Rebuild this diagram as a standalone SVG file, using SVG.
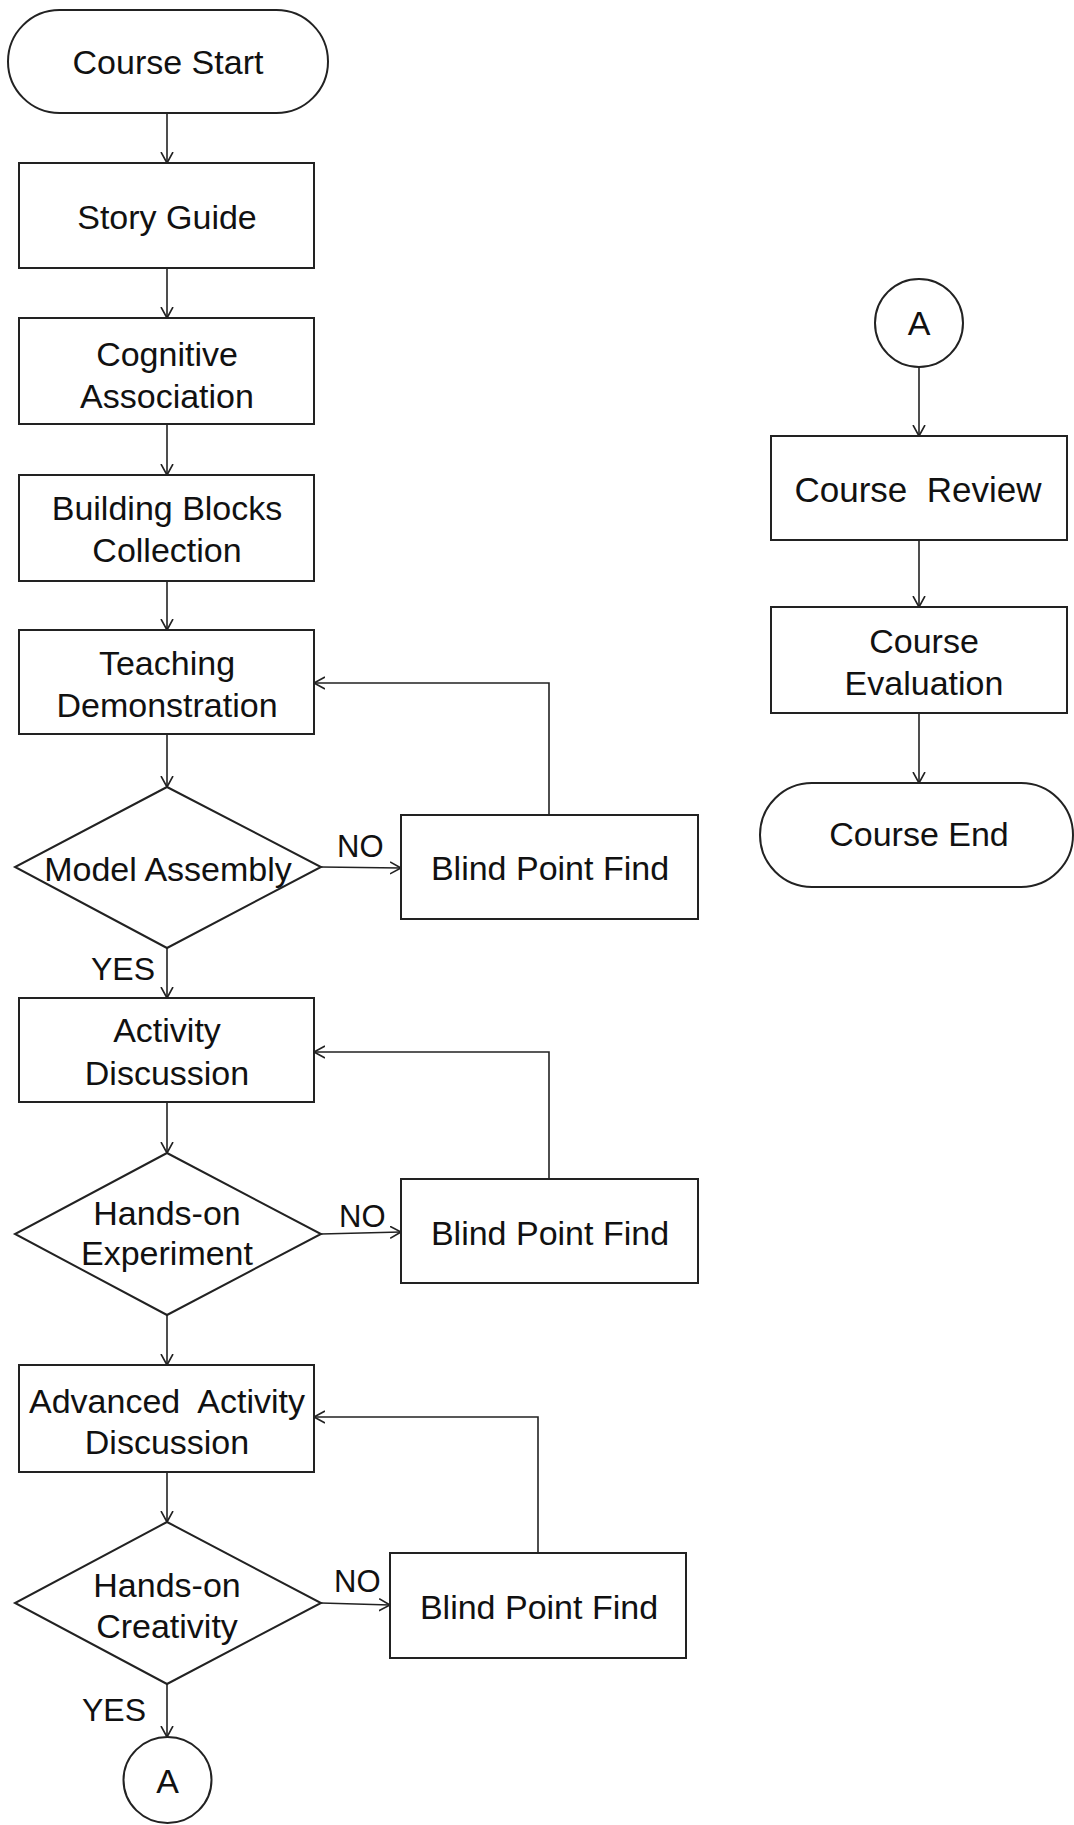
<svg xmlns="http://www.w3.org/2000/svg" width="1074" height="1825" viewBox="0 0 1074 1825">
<style>
.n{fill:#fff;stroke:#222;stroke-width:2}
.t{font-family:"Liberation Sans",Arial,sans-serif;font-size:34px;fill:#111;text-anchor:middle;white-space:pre}
.l{font-family:"Liberation Sans",Arial,sans-serif;font-size:31px;fill:#111;white-space:pre}
.c{fill:none;stroke:#222;stroke-width:1.6}
</style>
<defs>
<marker id="ah" markerUnits="userSpaceOnUse" markerWidth="14" markerHeight="14" refX="11" refY="6.5" orient="auto">
<path d="M0,0.5 L11,6.5 L0,12.5" fill="none" stroke="#222" stroke-width="1.6"/>
</marker>
</defs>
<rect width="1074" height="1825" fill="#fff"/>
<g id="connectors" class="c" marker-end="url(#ah)">
<path d="M167,113 V163"/>
<path d="M167,268 V318"/>
<path d="M167,424 V475"/>
<path d="M167,581 V630"/>
<path d="M167,734 V787"/>
<path d="M167,948 V998"/>
<path d="M321,867 L401,868"/>
<path d="M549,815 V683 H314"/>
<path d="M167,1102 V1153"/>
<path d="M321,1234 L401,1232"/>
<path d="M549,1179 V1052 H314"/>
<path d="M167,1315 V1365"/>
<path d="M167,1472 V1522"/>
<path d="M321,1603 L390,1605"/>
<path d="M538,1553 V1417 H314"/>
<path d="M167,1684 V1737"/>
<path d="M919,367 V436"/>
<path d="M919,540 V607"/>
<path d="M919,713 V783"/>
</g>
<g id="course-start"><rect class="n" x="8" y="10" width="320" height="103" rx="51.5"/><text class="t" x="168" y="74">Course Start</text></g>
<g id="story-guide"><rect class="n" x="19" y="163" width="295" height="105"/><text class="t" x="167" y="229">Story Guide</text></g>
<g id="cognitive-association"><rect class="n" x="19" y="318" width="295" height="106"/><text class="t" x="167" y="366">Cognitive</text><text class="t" x="167" y="408">Association</text></g>
<g id="building-blocks"><rect class="n" x="19" y="475" width="295" height="106"/><text class="t" x="167" y="520">Building Blocks</text><text class="t" x="167" y="562">Collection</text></g>
<g id="teaching-demonstration"><rect class="n" x="19" y="630" width="295" height="104"/><text class="t" x="167" y="675">Teaching</text><text class="t" x="167" y="717">Demonstration</text></g>
<g id="model-assembly"><polygon class="n" points="167,787 321,867 167,948 15,867"/><text class="t" x="168" y="881">Model Assembly</text></g>
<g id="blind-1"><rect class="n" x="401" y="815" width="297" height="104"/><text class="t" x="550" y="880">Blind Point Find</text></g>
<g id="activity-discussion"><rect class="n" x="19" y="998" width="295" height="104"/><text class="t" x="167" y="1042">Activity</text><text class="t" x="167" y="1085">Discussion</text></g>
<g id="hands-on-experiment"><polygon class="n" points="167,1153 321,1234 167,1315 15,1234"/><text class="t" x="167" y="1225">Hands-on</text><text class="t" x="167" y="1265">Experiment</text></g>
<g id="blind-2"><rect class="n" x="401" y="1179" width="297" height="104"/><text class="t" x="550" y="1245">Blind Point Find</text></g>
<g id="advanced-activity"><rect class="n" x="19" y="1365" width="295" height="107"/><text class="t" x="167" y="1413">Advanced  Activity</text><text class="t" x="167" y="1454">Discussion</text></g>
<g id="hands-on-creativity"><polygon class="n" points="167,1522 321,1603 167,1684 15,1603"/><text class="t" x="167" y="1597">Hands-on</text><text class="t" x="167" y="1638">Creativity</text></g>
<g id="blind-3"><rect class="n" x="390" y="1553" width="296" height="105"/><text class="t" x="539" y="1619">Blind Point Find</text></g>
<g id="a-bottom"><ellipse class="n" cx="167.5" cy="1780" rx="44" ry="43"/><text class="t" x="167.5" y="1793">A</text></g>
<g id="a-top"><ellipse class="n" cx="919" cy="323" rx="44" ry="44"/><text class="t" x="919" y="335">A</text></g>
<g id="course-review"><rect class="n" x="771" y="436" width="296" height="104"/><text class="t" x="918" y="502" style="font-size:35px">Course  Review</text></g>
<g id="course-evaluation"><rect class="n" x="771" y="607" width="296" height="106"/><text class="t" x="924" y="653">Course</text><text class="t" x="924" y="695">Evaluation</text></g>
<g id="course-end"><rect class="n" x="760" y="783" width="313" height="104" rx="52"/><text class="t" x="919" y="846">Course End</text></g>
<g id="labels">
<text class="l" x="337" y="857">NO</text>
<text class="l" x="91" y="980" style="font-size:32px">YES</text>
<text class="l" x="339" y="1227">NO</text>
<text class="l" x="334" y="1592">NO</text>
<text class="l" x="82" y="1721" style="font-size:32px">YES</text>
</g>
</svg>
